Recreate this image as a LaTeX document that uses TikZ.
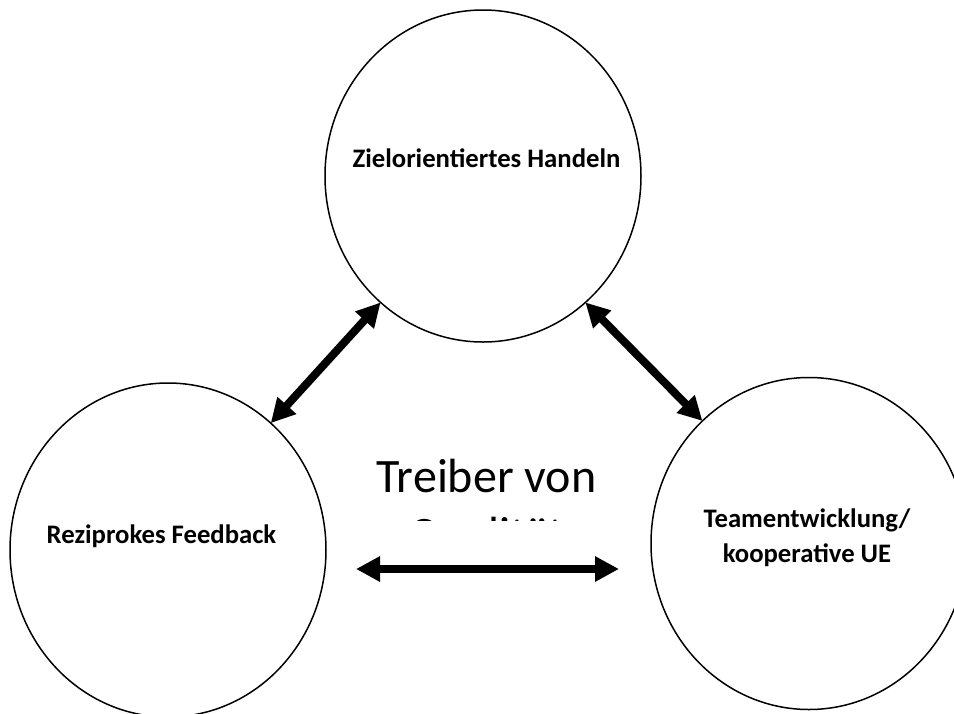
\documentclass[tikz,border=0pt]{standalone}
\usepackage{fontspec}
\setmainfont{Carlito}
\usetikzlibrary{shapes.geometric,arrows.meta,calc}
\begin{document}
\begin{tikzpicture}[x=1pt,y=-1pt,
  ring/.style={draw,ellipse,line width=1.5pt,inner sep=0pt,outer sep=0pt,
               minimum width=316pt,minimum height=332pt},
  lbl/.style={font=\bfseries\fontsize{26.7}{35}\selectfont,align=center,anchor=base,inner sep=0pt},
  big/.style={font=\fontsize{48}{57}\selectfont,anchor=base,inner sep=0pt},
  dbl/.style={line width=8pt,{Triangle[length=24pt,width=24pt]}-{Triangle[length=24pt,width=24pt]}}]

\useasboundingbox (0,0) rectangle (954,713);
\clip (0,0) rectangle (954,713);

% the three circles
\node[ring] (top) at (483,176) {};
\node[ring,minimum height=334pt] (left) at (168,550) {};
\node[ring] (right) at (809,543.5) {};

% circle labels
\node[lbl] (topL) at (486.5,167) {Zielorientiertes Handeln};
\node[lbl] (leftL) at (161.5,543) {Reziprokes Feedback};
\node[lbl] (rightL) at (807,562) {Teamentwicklung/\\kooperative UE};

% central caption; its second line is cut off by the text frame
\node[big] (cap) at (486.5,492) {Treiber von};
\begin{scope}
  \clip (300,400) rectangle (700,520.5);
  \node[big] (cap2) at (486.5,550.5) {Qualität};
\end{scope}

% double-headed arrows between the circles
\draw[dbl] (left.51.5) -- (top.231);
\draw[dbl] (top.309) -- (right.131.2);
\coordinate (hl) at ($(left.east)+(30,19)$);
\coordinate (hr) at ($(right.west)+(-32,25.5)$);
\draw[dbl] (hl) -- (hr);
\end{tikzpicture}
\end{document}
